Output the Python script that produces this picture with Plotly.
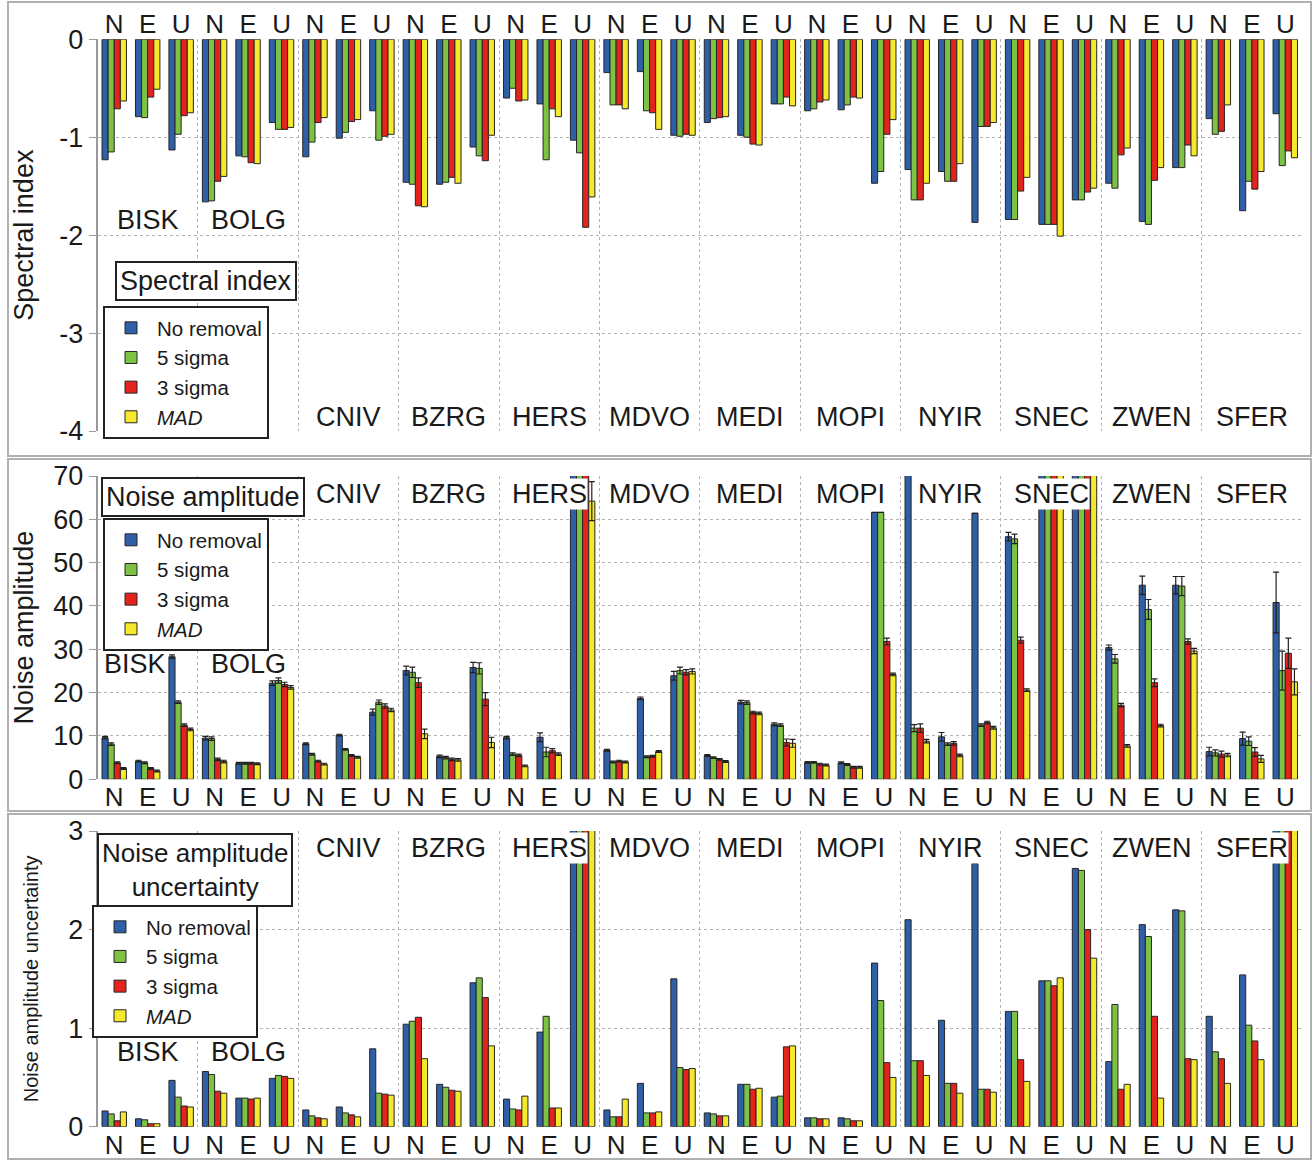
import plotly.graph_objects as go

# ---------------- data ----------------
stations = ["BISK", "BOLG", "CNIV", "BZRG", "HERS", "MDVO",
            "MEDI", "MOPI", "NYIR", "SNEC", "ZWEN", "SFER"]
components = ["N", "E", "U"]
series_names = ["No removal", "5 sigma", "3 sigma", "<i>MAD</i>"]

# Spectral index (per station: N, E, U)
si_none = [-1.23, -0.79, -1.13, -1.66, -1.19, -0.85, -1.20, -1.01, -0.73, -1.46, -1.48, -1.10,
           -0.60, -0.66, -1.03, -0.34, -0.33, -0.98, -0.85, -0.98, -0.66, -0.73, -0.72, -1.47,
           -1.33, -1.35, -1.87, -1.84, -1.89, -1.64, -1.47, -1.86, -1.31, -0.81, -1.75, -0.76]
si_5s = [-1.15, -0.80, -0.97, -1.65, -1.20, -0.92, -1.05, -0.95, -1.03, -1.48, -1.46, -1.19,
         -0.50, -1.23, -1.16, -0.67, -0.73, -0.99, -0.81, -1.00, -0.66, -0.71, -0.67, -1.35,
         -1.64, -1.45, -0.89, -1.84, -1.89, -1.64, -1.52, -1.89, -1.31, -0.97, -1.45, -1.29]
si_3s = [-0.71, -0.59, -0.78, -1.45, -1.26, -0.92, -0.85, -0.84, -0.99, -1.70, -1.41, -1.24,
         -0.63, -0.71, -1.92, -0.67, -0.75, -0.97, -0.80, -1.07, -0.59, -0.64, -0.59, -0.97,
         -1.64, -1.45, -0.89, -1.55, -1.89, -1.56, -1.18, -1.44, -1.08, -0.94, -1.53, -1.14]
si_mad = [-0.63, -0.51, -0.75, -1.40, -1.27, -0.90, -0.80, -0.82, -0.97, -1.71, -1.47, -0.98,
          -0.62, -0.79, -1.61, -0.71, -0.92, -0.98, -0.79, -1.08, -0.68, -0.62, -0.60, -0.82,
          -1.47, -1.27, -0.85, -1.41, -2.01, -1.52, -1.11, -1.31, -1.19, -0.67, -1.35, -1.21]
si_ticks = [-4, -3, -2, -1, 0]
si_ticktext = ["-4", "-3", "-2", "-1", "0"]

# Noise amplitude (values above 70 are cut off in the figure)
na_none = [9.6, 4.2, 28.3, 9.5, 3.7, 22.2, 8.2, 10.2, 15.5, 25.1, 5.3, 25.8,
           9.6, 9.7, 85.0, 6.7, 18.7, 23.9, 5.5, 17.8, 12.7, 3.9, 3.8, 61.6,
           85.0, 9.8, 61.4, 56.0, 85.0, 85.0, 30.4, 44.8, 44.8, 6.4, 9.4, 40.8]
na_5s = [8.1, 3.8, 17.8, 9.4, 3.7, 22.8, 5.8, 6.9, 17.8, 24.7, 5.0, 25.6,
         5.8, 6.3, 85.0, 4.0, 5.2, 25.1, 5.0, 17.7, 12.5, 3.9, 3.4, 61.6,
         11.8, 8.1, 12.5, 55.5, 85.0, 85.0, 27.8, 39.2, 44.6, 6.1, 8.8, 25.1]
na_3s = [3.8, 2.5, 12.5, 4.6, 3.7, 21.9, 4.2, 5.5, 16.9, 22.3, 4.6, 18.5,
         5.5, 6.6, 85.0, 4.2, 5.3, 24.7, 4.6, 15.4, 8.5, 3.5, 2.8, 31.8,
         11.8, 8.3, 13.1, 32.1, 85.0, 85.0, 17.1, 22.3, 31.8, 5.8, 6.3, 29.1]
na_mad = [2.5, 1.9, 11.5, 4.1, 3.6, 21.2, 3.5, 5.1, 16.0, 10.5, 4.5, 8.5,
          3.1, 5.8, 64.2, 4.0, 6.4, 24.9, 4.1, 15.2, 8.3, 3.3, 2.8, 24.2,
          8.8, 5.5, 11.9, 20.6, 85.0, 85.0, 7.7, 12.4, 29.6, 5.6, 4.7, 22.5]

# Noise amplitude error bars
na_err_none = [0.3, 0.2, 0.4, 0.4, 0.2, 0.5, 0.2, 0.2, 0.7, 1.0, 0.3, 1.2,
               0.3, 1.0, 0.0, 0.2, 0.3, 1.0, 0.2, 0.4, 0.3, 0.2, 0.2, 0.0,
               0.0, 1.0, 0.0, 1.0, 0.0, 0.0, 0.6, 2.1, 2.0, 1.0, 1.5, 7.0]
na_err_5s = [0.3, 0.2, 0.3, 0.4, 0.2, 0.6, 0.2, 0.2, 0.5, 1.2, 0.3, 1.3,
             0.3, 1.1, 0.0, 0.2, 0.2, 0.8, 0.2, 0.4, 0.3, 0.2, 0.2, 0.0,
             0.8, 0.3, 0.3, 1.1, 0.0, 0.0, 1.0, 2.3, 2.2, 0.7, 1.0, 4.5]
na_err_3s = [0.2, 0.2, 0.3, 0.3, 0.2, 0.5, 0.2, 0.2, 0.5, 1.1, 0.3, 1.5,
             0.3, 0.5, 0.0, 0.2, 0.2, 0.6, 0.2, 0.3, 0.8, 0.2, 0.2, 0.8,
             1.0, 0.4, 0.3, 0.7, 0.0, 0.0, 0.4, 0.9, 0.6, 0.7, 1.0, 3.5]
na_err_mad = [0.2, 0.2, 0.3, 0.3, 0.2, 0.4, 0.2, 0.2, 0.4, 1.1, 0.3, 1.2,
              0.2, 0.3, 4.5, 0.2, 0.2, 0.6, 0.2, 0.3, 0.9, 0.2, 0.2, 0.3,
              0.4, 0.3, 0.3, 0.3, 0.0, 0.0, 0.3, 0.3, 0.6, 0.4, 0.8, 3.0]

# Noise amplitude uncertainty (values above 3 are cut off in the figure)
nu_none = [0.16, 0.08, 0.47, 0.56, 0.29, 0.49, 0.17, 0.20, 0.79, 1.04, 0.43, 1.46,
           0.28, 0.96, 3.5, 0.17, 0.44, 1.50, 0.14, 0.43, 0.30, 0.09, 0.09, 1.66,
           2.10, 1.08, 2.67, 1.17, 1.48, 2.62, 0.66, 2.05, 2.20, 1.12, 1.54, 3.5]
nu_5s = [0.13, 0.07, 0.30, 0.53, 0.29, 0.52, 0.11, 0.14, 0.34, 1.07, 0.40, 1.51,
         0.18, 1.12, 3.5, 0.10, 0.14, 0.60, 0.13, 0.43, 0.31, 0.09, 0.08, 1.28,
         0.67, 0.44, 0.38, 1.17, 1.48, 2.60, 1.24, 1.93, 2.19, 0.76, 1.03, 3.5]
nu_3s = [0.06, 0.03, 0.21, 0.36, 0.28, 0.51, 0.09, 0.12, 0.33, 1.11, 0.37, 1.31,
         0.17, 0.19, 3.5, 0.10, 0.14, 0.58, 0.11, 0.38, 0.81, 0.08, 0.06, 0.65,
         0.67, 0.44, 0.38, 0.68, 1.43, 2.00, 0.38, 1.12, 0.69, 0.69, 0.87, 3.5]
nu_mad = [0.15, 0.03, 0.20, 0.34, 0.29, 0.49, 0.08, 0.10, 0.32, 0.69, 0.36, 0.82,
          0.31, 0.19, 3.5, 0.28, 0.15, 0.59, 0.11, 0.39, 0.82, 0.08, 0.06, 0.50,
          0.52, 0.34, 0.35, 0.46, 1.51, 1.71, 0.43, 0.29, 0.68, 0.44, 0.68, 3.5]

# ---------------- style ----------------
W, H = 1313, 1160
FONT = "Liberation Sans, Arial, sans-serif"
TXT = "#1a1a1a"
colors = ["#2f5fa7", "#7dc242", "#e3231c", "#f6e82a"]
GRID = "#b4b4b4"


def px(v):
    return v / W


def py(v):
    return 1 - v / H


n = len(stations) * len(components)
xpos = list(range(n))
ticktext = components * len(stations)
boundaries = [3 * i - 0.5 for i in range(1, len(stations))]
centers = [3 * i + 1 for i in range(len(stations))]

fig = go.Figure()

panels = [
    (["x", "y"], [si_none, si_5s, si_3s, si_mad], None, "legend"),
    (["x2", "y2"], [na_none, na_5s, na_3s, na_mad],
     [na_err_none, na_err_5s, na_err_3s, na_err_mad], "legend2"),
    (["x3", "y3"], [nu_none, nu_5s, nu_3s, nu_mad], None, "legend3"),
]

for (xa, ya), vals, errs, leg in panels:
    for k in range(4):
        tr = dict(
            x=xpos, y=vals[k], name=series_names[k], xaxis=xa, yaxis=ya,
            legend=leg,
            marker=dict(color=colors[k], line=dict(color="#262626", width=1)),
        )
        if errs is not None:
            tr["error_y"] = dict(type="data", array=errs[k], color="#202020",
                                 thickness=1.2, width=3)
        fig.add_trace(go.Bar(**tr))

xdom = [px(97.5), px(1302)]
common_x = dict(
    domain=xdom, range=[-0.5, n - 0.5], tickmode="array", tickvals=xpos,
    ticktext=ticktext, showgrid=False, zeroline=False, showline=False,
    automargin=False,
    tickfont=dict(family=FONT, size=26, color=TXT), ticks="",
    minor=dict(tickmode="array", tickvals=boundaries, showgrid=True,
               gridcolor=GRID, griddash="dot", gridwidth=1, ticks=""),
)
common_y = dict(
    showgrid=True, gridcolor=GRID, griddash="dot", gridwidth=1,
    zeroline=False, showline=True, linecolor="#9a9a9a", linewidth=1.5,
    ticks="outside", ticklen=7, tickcolor="#9a9a9a", automargin=False,
    tickfont=dict(family=FONT, size=27, color=TXT),
)

fig.update_layout(
    width=W, height=H, margin=dict(l=0, r=0, t=0, b=0, autoexpand=False),
    paper_bgcolor="white", plot_bgcolor="white",
    barmode="group", bargap=0.27, bargroupgap=0,
    font=dict(family=FONT, color=TXT),
    xaxis=dict(common_x, anchor="y", side="top"),
    xaxis2=dict(common_x, anchor="y2"),
    xaxis3=dict(common_x, anchor="y3"),
    yaxis=dict(common_y, anchor="x", domain=[py(431), py(39.3)], range=[-4, 0],
               tickmode="array", tickvals=si_ticks, ticktext=si_ticktext,
               title=dict(text="Spectral index", standoff=18,
                          font=dict(family=FONT, size=27, color=TXT))),
    yaxis2=dict(common_y, anchor="x2", domain=[py(779.3), py(476)], range=[0, 70],
                dtick=10, title=dict(text="Noise amplitude", standoff=12,
                                     font=dict(family=FONT, size=27, color=TXT))),
    yaxis3=dict(common_y, anchor="x3", domain=[py(1126.7), py(831)], range=[0, 3],
                dtick=1, title=dict(text="Noise amplitude uncertainty", standoff=24,
                                    font=dict(family=FONT, size=20, color=TXT))),
)

leg_common = dict(
    xanchor="left", yanchor="top", bgcolor="white", bordercolor="#222",
    borderwidth=2, font=dict(family=FONT, size=20.5, color=TXT),
    itemclick=False, itemdoubleclick=False, tracegroupgap=0, itemwidth=42,
)
fig.update_layout(
    legend=dict(leg_common, x=px(103), y=py(306)),
    legend2=dict(leg_common, x=px(103), y=py(518)),
    legend3=dict(leg_common, x=px(92), y=py(905)),
)

# Legend title boxes
titles = [
    ("Spectral index", px(206), py(281), 27),
    ("Noise amplitude", px(203), py(497), 27),
    ("Noise amplitude<br>uncertainty", px(195), py(870), 26),
]
for text, tx, ty, fs in titles:
    fig.add_annotation(text=text, x=tx, y=ty, xref="paper", yref="paper",
                       xanchor="center", yanchor="middle",
                       showarrow=False, bgcolor="white", bordercolor="#222",
                       borderwidth=2, borderpad=3,
                       font=dict(family=FONT, size=fs, color=TXT))

# Station labels (y position per station and panel, in axis units)
label_y_top = [-1.85, -1.85] + [-3.86] * 10
label_y_mid = [26.6, 26.6] + [65.8] * 10
label_y_bot = [0.76, 0.76] + [2.83] * 10
label_xshift_mid = [-13, 0] + [0] * 10
no_shift = [0] * 12
for (xa, ya), ys, shifts in zip([("x", "y"), ("x2", "y2"), ("x3", "y3")],
                                [label_y_top, label_y_mid, label_y_bot],
                                [no_shift, label_xshift_mid, no_shift]):
    for i, (s, cx, cy, dx) in enumerate(zip(stations, centers, ys, shifts)):
        fig.add_annotation(text=s, x=cx, y=cy, xref=xa, yref=ya, xshift=dx,
                           xanchor="center", yanchor="middle",
                           showarrow=False,
                           bgcolor="rgba(0,0,0,0)" if i < 2 else "white",
                           borderpad=0,
                           font=dict(family=FONT, size=27, color=TXT))

# Panel frames
for y0, y1 in [(456, 2), (811, 459), (1159, 814)]:
    fig.add_shape(type="rect", xref="paper", yref="paper",
                  x0=px(8), x1=px(1311), y0=py(y0), y1=py(y1),
                  line=dict(color="#b0b0b0", width=2), layer="below")

fig.write_html("out.html")
